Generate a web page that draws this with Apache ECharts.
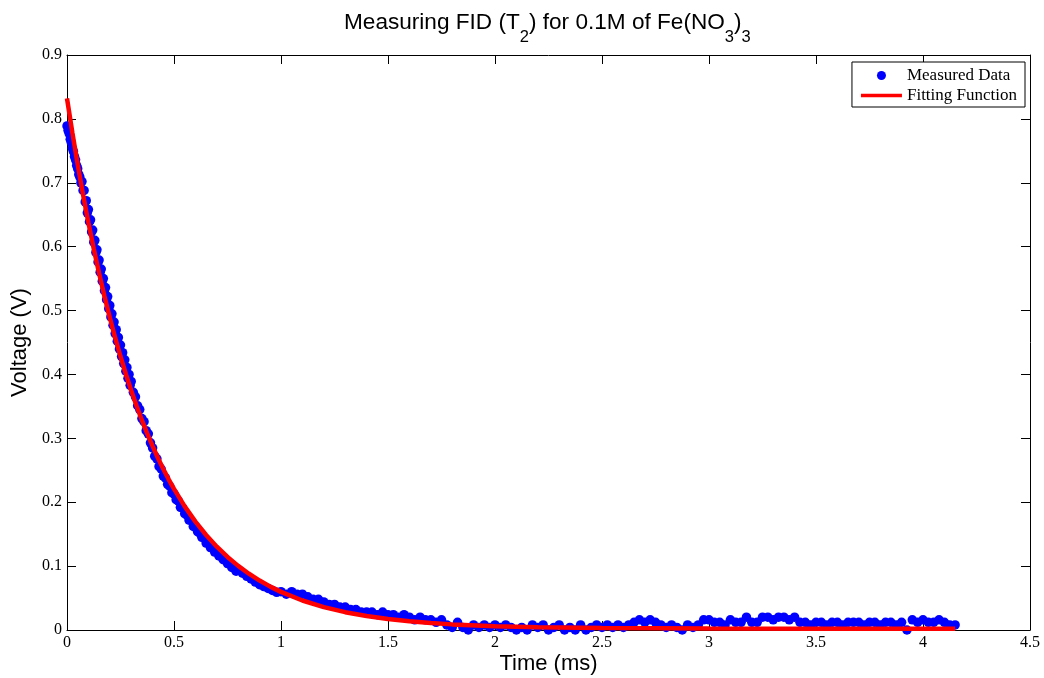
<!DOCTYPE html>
<html>
<head>
<meta charset="utf-8">
<script src="https://cdn.jsdelivr.net/npm/echarts@6/dist/echarts.min.js"></script>
<style>
html,body{margin:0;padding:0;background:#fff;}
#chart{width:1044px;height:678px;}
</style>
</head>
<body>
<div id="chart"></div>
<script>
// Measured FID data: [time (ms), voltage (V)]
var measured = [
[0,0.789],[0.005,0.782],[0.01,0.777],[0.015,0.768],[0.02,0.763],[0.025,0.754],[0.03,0.749],[0.035,0.741],[0.04,0.736],[0.045,0.727],
[0.05,0.722],[0.055,0.713],[0.06,0.709],[0.065,0.700],[0.07,0.702],[0.075,0.688],[0.08,0.688],[0.085,0.670],[0.09,0.672],[0.095,0.653],
[0.1,0.658],[0.105,0.639],[0.11,0.642],[0.115,0.623],[0.12,0.626],[0.125,0.607],[0.13,0.610],[0.135,0.591],[0.14,0.595],[0.145,0.576],
[0.15,0.579],[0.155,0.560],[0.16,0.565],[0.165,0.546],[0.17,0.550],[0.175,0.531],[0.18,0.536],[0.185,0.517],[0.19,0.522],[0.195,0.503],
[0.2,0.508],[0.205,0.490],[0.21,0.495],[0.215,0.477],[0.22,0.482],[0.225,0.464],[0.23,0.470],[0.235,0.452],[0.24,0.458],[0.245,0.440],
[0.25,0.446],[0.255,0.428],[0.26,0.434],[0.265,0.417],[0.27,0.423],[0.275,0.405],[0.28,0.411],[0.285,0.394],[0.29,0.400],[0.295,0.383],
[0.3,0.389],[0.31,0.372],[0.32,0.365],[0.33,0.351],[0.34,0.345],[0.35,0.331],[0.36,0.326],[0.37,0.312],[0.38,0.307],[0.39,0.293],
[0.4,0.285],[0.41,0.272],[0.42,0.268],[0.43,0.256],[0.44,0.252],[0.45,0.241],[0.46,0.238],[0.47,0.228],[0.48,0.225],[0.49,0.215],
[0.5,0.213],[0.51,0.204],[0.52,0.202],[0.53,0.192],[0.54,0.191],[0.55,0.182],[0.56,0.180],[0.57,0.172],[0.58,0.171],[0.59,0.162],
[0.6,0.162],[0.61,0.154],[0.62,0.152],[0.63,0.145],[0.64,0.145],[0.65,0.136],[0.66,0.137],[0.67,0.129],[0.68,0.130],[0.69,0.122],
[0.7,0.123],[0.71,0.116],[0.72,0.116],[0.73,0.110],[0.74,0.110],[0.75,0.104],[0.76,0.104],[0.77,0.098],[0.78,0.099],[0.79,0.092],
[0.8,0.094],[0.82,0.089],[0.84,0.084],[0.86,0.080],[0.88,0.075],[0.9,0.071],[0.92,0.068],[0.94,0.065],[0.96,0.062],[0.98,0.059],
[1.0,0.060],[1.025,0.056],[1.05,0.060],[1.075,0.056],[1.1,0.056],[1.125,0.052],[1.15,0.048],[1.175,0.048],[1.2,0.044],[1.225,0.040],
[1.25,0.040],[1.275,0.036],[1.3,0.036],[1.325,0.032],[1.35,0.032],[1.375,0.028],[1.4,0.028],[1.425,0.028],[1.45,0.024],[1.475,0.028],
[1.5,0.024],[1.525,0.024],[1.55,0.020],[1.575,0.024],[1.6,0.020],[1.625,0.016],[1.65,0.020],[1.675,0.016],[1.7,0.016],[1.725,0.012],
[1.75,0.016],[1.775,0.008],[1.8,0.004],[1.825,0.012],[1.85,0.004],[1.875,0.000],[1.9,0.008],[1.925,0.004],[1.95,0.008],[1.975,0.004],
[2.0,0.008],[2.025,0.004],[2.05,0.008],[2.075,0.004],[2.1,0.000],[2.125,0.004],[2.15,0.000],[2.175,0.008],[2.2,0.004],[2.225,0.008],
[2.25,0.000],[2.275,0.004],[2.3,0.008],[2.325,0.000],[2.35,0.004],[2.375,0.000],[2.4,0.008],[2.425,0.000],[2.45,0.004],[2.475,0.008],
[2.5,0.004],[2.525,0.008],[2.55,0.004],[2.575,0.008],[2.6,0.004],[2.625,0.008],[2.65,0.012],[2.675,0.016],[2.7,0.012],[2.725,0.016],
[2.75,0.012],[2.775,0.008],[2.8,0.004],[2.825,0.008],[2.85,0.004],[2.875,0.000],[2.9,0.008],[2.925,0.004],[2.95,0.008],[2.975,0.016],
[3.0,0.016],[3.025,0.012],[3.05,0.012],[3.075,0.008],[3.1,0.016],[3.125,0.012],[3.15,0.012],[3.175,0.020],[3.2,0.012],[3.225,0.012],
[3.25,0.020],[3.275,0.020],[3.3,0.016],[3.325,0.020],[3.35,0.020],[3.375,0.016],[3.4,0.020],[3.425,0.012],[3.45,0.012],[3.475,0.008],
[3.5,0.012],[3.525,0.012],[3.55,0.008],[3.575,0.012],[3.6,0.012],[3.625,0.008],[3.65,0.012],[3.675,0.012],[3.7,0.012],[3.725,0.008],
[3.75,0.012],[3.775,0.012],[3.8,0.008],[3.825,0.012],[3.85,0.012],[3.875,0.008],[3.9,0.012],[3.925,0.000],[3.95,0.016],[3.975,0.012],
[4.0,0.016],[4.025,0.012],[4.05,0.012],[4.075,0.016],[4.1,0.012],[4.125,0.008],[4.15,0.008]
];
// Fitting function curve: [time (ms), voltage (V)]
var fitCurve = [
[0,0.832],[0.025,0.7785],[0.05,0.7284],[0.075,0.6815],[0.1,0.6377],[0.125,0.5967],[0.15,0.5584],[0.175,0.5225],[0.2,0.4889],
[0.225,0.4575],[0.25,0.4281],[0.275,0.4007],[0.3,0.3749],[0.325,0.3509],[0.35,0.3284],[0.375,0.3073],[0.4,0.2877],[0.425,0.2692],
[0.45,0.2520],[0.475,0.2359],[0.5,0.2208],[0.55,0.1935],[0.6,0.1696],[0.65,0.1487],[0.7,0.1304],[0.75,0.1144],[0.8,0.1004],
[0.85,0.0881],[0.9,0.0774],[0.95,0.0679],[1.0,0.0597],[1.1,0.0462],[1.2,0.0358],[1.3,0.0279],[1.4,0.0219],[1.5,0.0172],
[1.6,0.0137],[1.7,0.0109],[1.8,0.0088],[2.0,0.0060],[2.2,0.0044],[2.5,0.0031],[3.0,0.0023],[3.5,0.0021],[4.15,0.0020]
];
var seriesNames = ['Measured Data', 'Fitting Function'];
var xRange = [0, 4.5], xStep = 0.5;
var yRange = [0, 0.9], yStep = 0.1;

var chart = echarts.init(document.getElementById('chart'), null, {renderer: 'canvas'});
var serif = '"Liberation Serif", "DejaVu Serif", serif';
var sans = '"Liberation Sans", Arial, sans-serif';
var tickStyle = {show: true, inside: true, length: 9, lineStyle: {color: '#000', width: 1}};
var lineSt = {show: true, lineStyle: {color: '#000', width: 1}};
function mkX(pos, labels) {
  return {type: 'value', position: pos, min: xRange[0], max: xRange[1], interval: xStep,
    axisLine: Object.assign({onZero: false}, lineSt), axisTick: tickStyle, splitLine: {show: false},
    axisLabel: {show: labels, color: '#000', fontFamily: serif, fontSize: 16, margin: 5}};
}
function mkY(pos, labels) {
  return {type: 'value', position: pos, min: yRange[0], max: yRange[1], interval: yStep,
    axisLine: Object.assign({onZero: false}, lineSt), axisTick: tickStyle, splitLine: {show: false},
    axisLabel: {show: labels, color: '#000', fontFamily: serif, fontSize: 16, margin: 5}};
}
var xb = mkX('bottom', true);
xb.name = 'Time (ms)'; xb.nameLocation = 'middle'; xb.nameGap = 23; xb.nameMoveOverlap = false;
xb.nameTextStyle = {fontFamily: sans, fontSize: 22, color: '#000'};
var yl = mkY('left', true);
yl.name = 'Voltage (V)'; yl.nameLocation = 'middle'; yl.nameGap = 29;
yl.nameTextStyle = {fontFamily: sans, fontSize: 22, color: '#000'};

chart.setOption({
  animation: false,
  backgroundColor: '#fff',
  title: {
    text: '{n|Measuring FID (T}{s|2}{n|) for 0.1M of Fe(NO}{s|3}{n|)}{s|3}',
    left: 344, top: 11, padding: 0,
    textStyle: {
      fontWeight: 'normal',
      rich: {
        n: {fontFamily: sans, fontSize: 22.6, fontWeight: 'normal', color: '#000', lineHeight: 26, verticalAlign: 'top'},
        s: {fontFamily: sans, fontSize: 16.5, fontWeight: 'normal', color: '#000', lineHeight: 20, verticalAlign: 'top', padding: [18, 0, 0, 0]}
      }
    }
  },
  legend: {
    orient: 'vertical', right: 19, top: 62,
    padding: [5, 8, 3, 9], itemGap: 3,
    itemWidth: 41, itemHeight: 9,
    backgroundColor: '#fff', borderColor: '#000', borderWidth: 1, borderRadius: 0,
    textStyle: {fontFamily: serif, fontSize: 17, color: '#000'},
    data: [
      {name: seriesNames[0], icon: 'circle'},
      {name: seriesNames[1], icon: 'path://M0,0L41,0L41,3.5L0,3.5Z'}
    ]
  },
  grid: {left: 67, right: 14, top: 55, bottom: 48, containLabel: false, outerBoundsMode: 'none'},
  xAxis: [xb, mkX('top', false)],
  yAxis: [yl, mkY('right', false)],
  series: [
    {name: seriesNames[0], type: 'scatter', data: measured, symbol: 'circle', symbolSize: 9.5,
      itemStyle: {color: '#0000ff', opacity: 1}, z: 2},
    {name: seriesNames[1], type: 'line', data: fitCurve, showSymbol: false, symbol: 'none',
      smooth: false,
      lineStyle: {color: '#ff0000', width: 4.5}, itemStyle: {color: '#ff0000'}, z: 3}
  ]
});
</script>
</body>
</html>
